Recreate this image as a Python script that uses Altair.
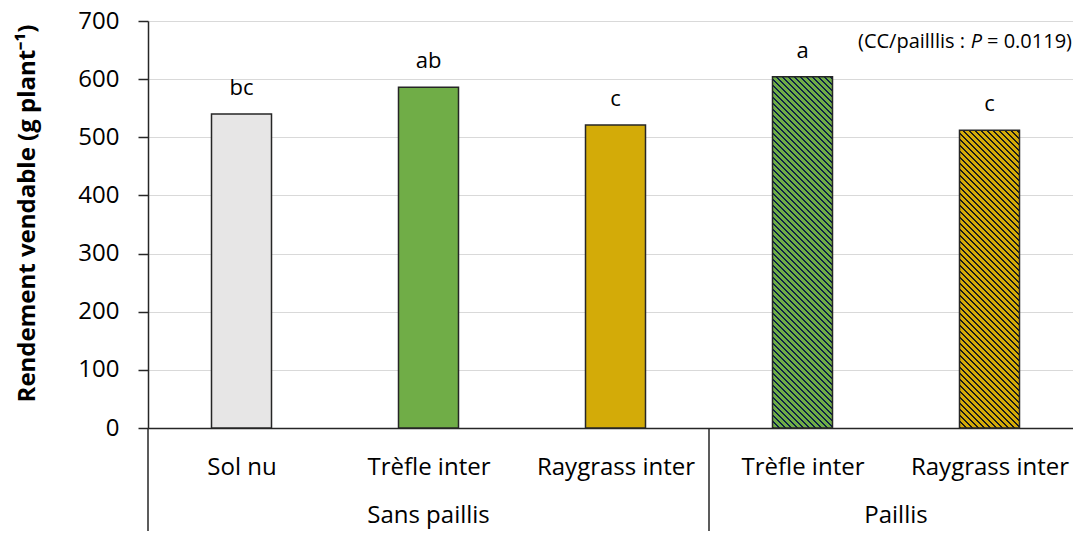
import json
import math
import altair as alt
import pandas as pd

# ---- data ----
categories = ["Sol nu", "Trèfle inter", "Raygrass inter", "Trèfle inter", "Raygrass inter"]
groups = ["Sans paillis", "Sans paillis", "Sans paillis", "Paillis", "Paillis"]
values = [540, 586, 521, 604, 512]
letters = ["bc", "ab", "c", "a", "c"]
hatched = [False, False, False, True, True]
annotation_left = "(CC/pailllis :"
annotation_p = "P"
annotation_right = "= 0.0119)"

# ---- styles ----
FONT = "Open Sans"
plain_colors = ["#e7e6e6", "#70ad47", "#d3ab08"]
hatch_light = {3: "#70ad47", 4: "#d3ab08"}
hatch_dark = {3: "#0c2345", 4: "#1a1a1a"}
EDGE = "#262626"

W, H = 925, 407          # plot area (page is 1065 px wide inside its margins)
STEP = 187               # pixel width of one category slot in the reference
YMAX = 700
BAR_W = 60

df = pd.DataFrame({
    "idx": list(range(len(categories))),
    "cat": categories,
    "grp": groups,
    "val": values,
    "lab": letters,
})

x_scale = alt.Scale(domain=[-0.5, -0.5 + W / STEP], nice=False, zero=False, padding=0)
y_scale = alt.Scale(domain=[0, YMAX], nice=False)

label_expr = json.dumps(categories, ensure_ascii=False) + "[datum.value]"

x_enc = alt.X("idx:Q", scale=x_scale,
              axis=alt.Axis(values=list(range(len(categories))), labelExpr=label_expr,
                            title=None, grid=False, ticks=False, tickSize=0,
                            domainColor=EDGE, domainWidth=1.5,
                            labelFont=FONT, labelFontSize=24, labelColor="#000000",
                            labelPadding=46, labelBaseline="alphabetic",
                            labelOverlap=False, labelFlush=False))
y_enc = alt.Y("val:Q", scale=y_scale,
              axis=alt.Axis(values=list(range(0, YMAX + 1, 100)), grid=True,
                            gridColor="#d9d9d9", gridWidth=1,
                            tickColor=EDGE, tickSize=10, tickWidth=1.5,
                            domainColor=EDGE, domainWidth=1.5,
                            labelFont=FONT, labelFontSize=24, labelColor="#000000",
                            labelPadding=19,
                            title="Rendement vendable (g plant⁻¹)",
                            titleFont=FONT, titleFontSize=24, titleFontWeight="bold",
                            titleColor="#000000", titleAngle=-90,
                            titleX=-121, titleY=192, titleAlign="center",
                            titleBaseline="middle"))

base = alt.Chart(df)

plain = base.transform_filter(alt.datum.idx <= 2).mark_bar(
    size=BAR_W, stroke=EDGE, strokeWidth=1.5
).encode(
    x=x_enc, y=y_enc,
    color=alt.Color("idx:N", scale=alt.Scale(domain=[0, 1, 2], range=plain_colors), legend=None),
)


def hatch_gradient(light, dark, w, h, hperiod=6.0, frac=0.3):
    """Diagonal stripes drawn with a hard-stop linear gradient (objectBoundingBox units)."""
    a = w / h
    tmax = (a + 1) / (a * a + 1)
    length = (w + h) / math.sqrt(2)
    p = hperiod / math.sqrt(2)
    n = math.ceil(length / p)
    tmax *= (n * p) / length
    x2 = a * tmax
    y2 = 1 - tmax
    stops = []
    for i in range(n):
        o0, o1, o2 = i / n, (i + frac) / n, (i + 1) / n
        stops += [
            alt.GradientStop(offset=o0, color=dark),
            alt.GradientStop(offset=o1, color=dark),
            alt.GradientStop(offset=o1, color=light),
            alt.GradientStop(offset=o2, color=light),
        ]
    return alt.LinearGradient(gradient="linear", stops=stops, x1=0, y1=1, x2=x2, y2=y2)


hatch_layers = []
for i, is_h in enumerate(hatched):
    if not is_h:
        continue
    h_px = values[i] * H / YMAX
    grad = hatch_gradient(hatch_light[i], hatch_dark[i], BAR_W, h_px)
    hatch_layers.append(
        base.transform_filter(alt.datum.idx == i).mark_bar(
            size=BAR_W, fill=grad, stroke=EDGE, strokeWidth=1.5
        ).encode(x=alt.X("idx:Q", scale=x_scale), y=alt.Y("val:Q", scale=y_scale))
    )

letters_layer = base.mark_text(
    font=FONT, fontSize=22, baseline="alphabetic", dy=-19, color="#000000"
).encode(x=alt.X("idx:Q", scale=x_scale), y=alt.Y("val:Q", scale=y_scale), text="lab:N")

group_labels = base.transform_aggregate(
    center="mean(idx)", groupby=["grp"]
).mark_text(
    font=FONT, fontSize=24, baseline="alphabetic", color="#000000"
).encode(x=alt.X("center:Q", scale=x_scale), y=alt.value(H + 95), text="grp:N")

separators = base.transform_aggregate(
    first="min(idx)", groupby=["grp"]
).transform_calculate(
    edge="datum.first - 0.5"
).mark_rule(color=EDGE, strokeWidth=1.5).encode(
    x=alt.X("edge:Q", scale=x_scale), y=alt.value(H), y2=alt.value(H + 115)
)

ANN_SIZE = 20
ann_df = pd.DataFrame({"t": [annotation_left], "p": [annotation_p], "r": [annotation_right]})
ann_base = alt.Chart(ann_df)
ann_right = ann_base.mark_text(font=FONT, fontSize=ANN_SIZE, align="right", baseline="alphabetic",
                               color="#000000").encode(x=alt.value(W - 1), y=alt.value(27), text="r:N")
ann_p = ann_base.mark_text(font=FONT, fontSize=ANN_SIZE, fontStyle="italic", align="right",
                           baseline="alphabetic", color="#000000").encode(
    x=alt.value(W - 91), y=alt.value(27), text="p:N")
ann_left = ann_base.mark_text(font=FONT, fontSize=ANN_SIZE, align="right", baseline="alphabetic",
                              color="#000000").encode(x=alt.value(W - 108), y=alt.value(27), text="t:N")

chart = alt.layer(
    plain, *hatch_layers, letters_layer, group_labels, separators, ann_left, ann_p, ann_right
).properties(
    width=W, height=H,
    autosize=alt.AutoSizeParams(type="none"),
    padding={"left": 140, "top": 13, "right": 0, "bottom": 103},
    background="white",
).configure_view(stroke=None)

chart.save("out.html", embed_options={"renderer": "svg", "actions": False})
